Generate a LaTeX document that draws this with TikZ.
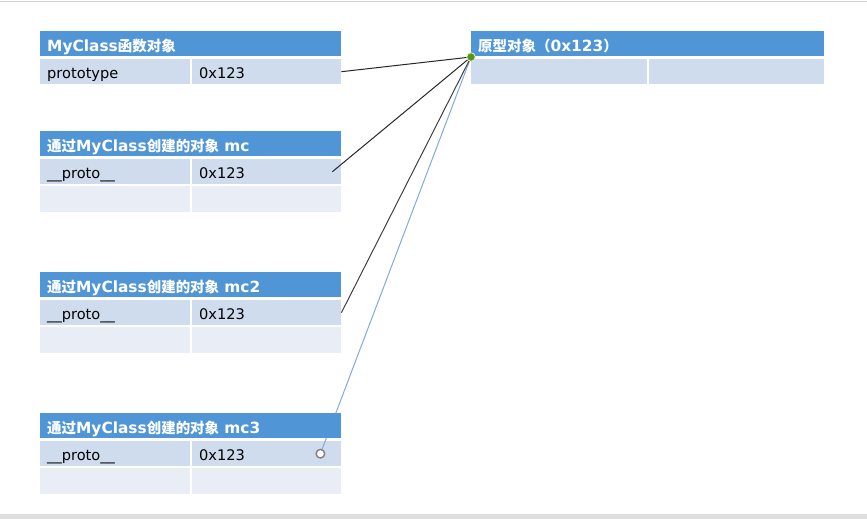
\documentclass[tikz,border=0pt]{standalone}
\usepackage{fontspec}
\setmainfont{DejaVu Sans}
\newfontfamily\cjk[Scale=0.94]{Noto Sans CJK SC}
\definecolor{hdrblue}{RGB}{80,149,213}
\definecolor{rowone}{RGB}{207,220,238}
\definecolor{rowtwo}{RGB}{232,237,246}
\definecolor{linkblue}{RGB}{130,170,222}
\definecolor{dotgreen}{RGB}{92,150,22}
\tikzset{
  cell/.style={anchor=north west, inner xsep=7pt, inner ysep=0pt, align=left,
    minimum height=25pt, text height=14pt, text depth=1pt,
    font=\fontsize{14.6}{16}\selectfont},
  hdr/.style={cell, fill=hdrblue, text=white, text height=15pt, text depth=0pt,
    font=\fontsize{15.4}{17}\selectfont\bfseries},
  keycell/.style={cell, fill=rowone, text width=136pt},
  valcell/.style={cell, fill=rowone, text width=135pt},
  blank/.style={cell, fill=rowtwo, minimum height=26pt},
  link/.style={line width=1pt}
}
\begin{document}
\begin{tikzpicture}[x=1pt,y=-1pt]
  \useasboundingbox (0,0) rectangle (867,519);
  \draw[gray!35] (0,1) -- (867,1);
  \fill[gray!25] (0,514) rectangle (867,519);
  \coordinate (dot) at (471,57);
  % rows
  \node[keycell] (fnkey) at (40,59) {prototype};
  \node[valcell] (fnval) at (192,59) {0x123};
  \foreach \n/\y in {mc/131, mctwo/272, mcthree/413} {
    \node[keycell] (\n key) at (40,\y+28) {\_\_proto\_\_};
    \node[valcell] (\n val) at (192,\y+28) {0x123};
    \node[blank, text width=136pt] (\n k2) at (40,\y+55) {};
    \node[blank, text width=135pt] (\n v2) at (192,\y+55) {};
  }
  \node[keycell, text width=162pt] (pkey) at (471,59) {};
  \node[valcell, text width=161pt] (pval) at (649,59) {};
  \coordinate (ring) at ([xshift=-21pt]mcthreeval.east);
  \draw[link, linkblue] (ring) -- (dot);
  % headers
  \node[hdr, text width=287pt] (fn) at (40,31) {MyClass{\cjk 函数对象}};
  \foreach \n/\y/\s in {mc/131/mc, mctwo/272/mc2, mcthree/413/mc3}
    \node[hdr, text width=287pt] (\n) at (40,\y) {{\cjk 通过}MyClass{\cjk 创建的对象} \s};
  \node[hdr, text width=339pt] (proto) at (471,31) {{\cjk 原型对象（}0x123{\cjk ）}};
  % links to the prototype
  \draw[link, black!85] (fnval.east) -- (dot);
  \draw[link, black!85] ([xshift=-9pt]mcval.east) -- (dot);
  \draw[link, black!75] (mctwoval.east) -- (dot);
  \filldraw[fill=white, draw=gray, line width=1.4pt] (ring) circle (4.3pt);
  \filldraw[fill=dotgreen, draw=white!85!dotgreen, line width=0.8pt] (dot) circle (4.3pt);
\end{tikzpicture}
\end{document}
